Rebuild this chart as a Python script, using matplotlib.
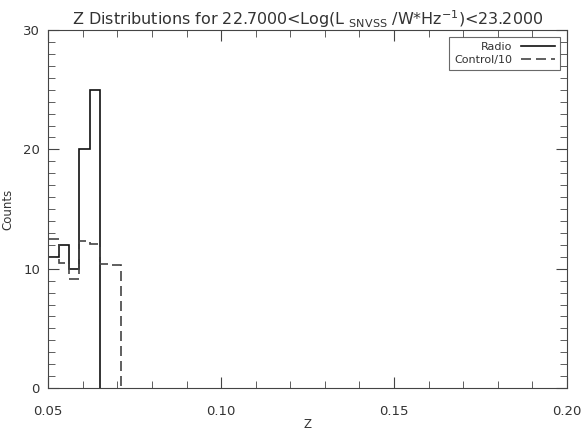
import matplotlib
matplotlib.use('Agg')
import matplotlib.pyplot as plt
from matplotlib.ticker import MultipleLocator

# histogram bins (redshift) and counts
radio_edges = [0.050, 0.053, 0.056, 0.059, 0.062, 0.065]
radio_counts = [11, 12, 10, 20, 25]

control_edges = [0.050, 0.053, 0.056, 0.059, 0.062, 0.065, 0.068, 0.071]
control_counts = [12.5, 10.5, 9.1, 12.3, 12.1, 10.4, 10.3]

xticks = [0.05, 0.10, 0.15, 0.20]
xticklabels = ['0.05', '0.10', '0.15', '0.20']
yticks = [0, 10, 20, 30]

txt = '#333333'
plt.rcParams['font.family'] = 'DejaVu Sans'

fig = plt.figure(figsize=(5.82, 4.36), dpi=100)
ax = fig.add_axes([0.083, 0.110, 0.891, 0.821])

ax.stairs(radio_counts, radio_edges, baseline=0, color='#111111',
          lw=1.2, label='Radio')
ax.stairs(control_counts, control_edges, baseline=0, color='#444444',
          lw=1.2, linestyle=(0, (6, 3)), label='Control/10')

ax.set_xlim(0.05, 0.20)
ax.set_ylim(0, 30)
ax.set_xticks(xticks)
ax.set_xticklabels(xticklabels)
ax.set_yticks(yticks)
ax.xaxis.set_minor_locator(MultipleLocator(0.01))
ax.yaxis.set_minor_locator(MultipleLocator(1))
ax.tick_params(which='both', direction='in', top=True, right=True,
               colors='#444444', labelcolor=txt, labelsize=9.5)
ax.tick_params(axis='x', pad=12)
ax.tick_params(axis='y', pad=6)
ax.tick_params(which='major', length=8)
ax.tick_params(which='minor', length=5)
for s in ax.spines.values():
    s.set_color('#444444')

ax.set_xlabel('Z', color=txt, fontsize=8.5, labelpad=0)
ax.set_ylabel('Counts', color=txt, fontsize=8.5, labelpad=6)
ax.set_title(r'Z Distributions for 22.7000<Log(L $_{\rm SNVSS}$ /W*Hz$^{-1}$)<23.2000',
             color=txt, fontsize=11.5, pad=4)

leg = ax.legend(loc='upper right', markerfirst=False, fontsize=8,
                frameon=True, fancybox=False, handlelength=3,
                borderpad=0.5, labelspacing=0.2, borderaxespad=0.6)
leg.get_frame().set_edgecolor('#444444')
leg.get_frame().set_linewidth(0.8)
for t in leg.get_texts():
    t.set_color(txt)
    t.set_ha('right')

fig.savefig('out.png', dpi=100)
